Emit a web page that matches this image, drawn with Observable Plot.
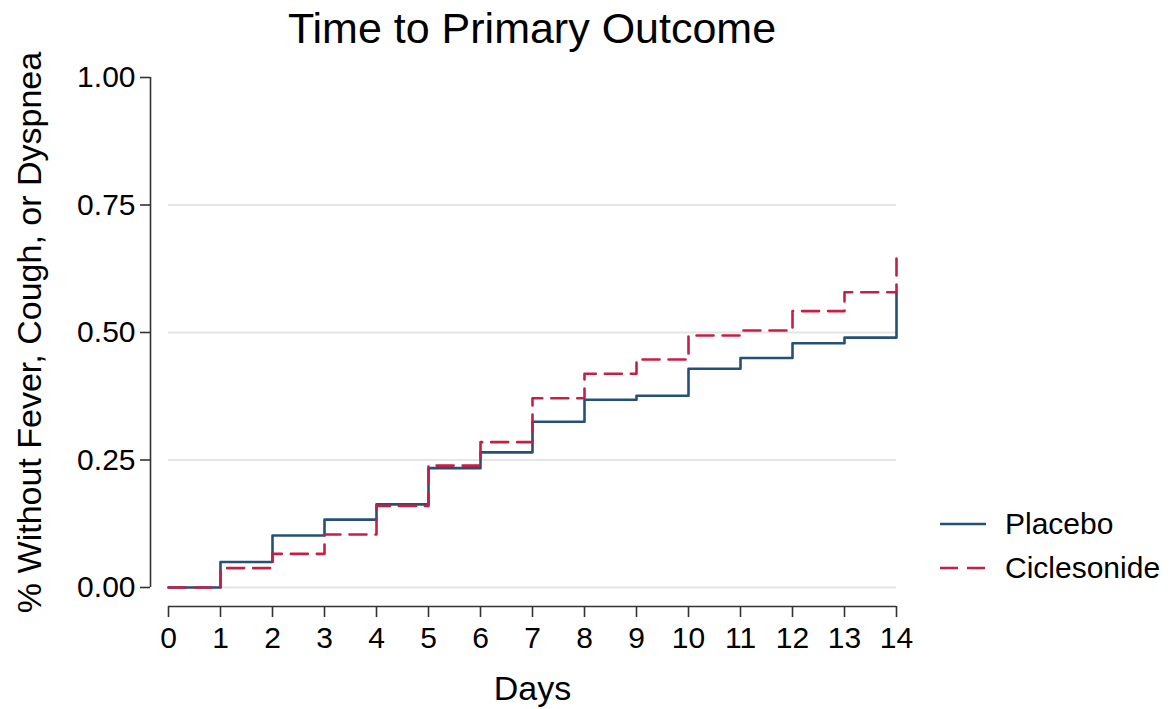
<!DOCTYPE html>
<html><head><meta charset="utf-8">
<script src="https://cdn.jsdelivr.net/npm/d3@7"></script>
<script src="https://cdn.jsdelivr.net/npm/@observablehq/plot@0.6"></script>
<style>
body{margin:0;background:#fff;font-family:"Liberation Sans",Arial,sans-serif;}
#wrap{position:relative;width:1175px;height:709px;overflow:hidden;}
#title{position:absolute;left:0;top:0;width:1064px;height:56px;line-height:56px;text-align:center;font-size:43px;color:#000;}
#chart{position:absolute;left:0;top:56px;}
.legtext{position:absolute;left:1005px;font-size:30px;line-height:30px;color:#000;white-space:nowrap;}
.legsw{position:absolute;left:940px;}
</style></head><body>
<div id="wrap">
  <div id="title">Time to Primary Outcome</div>
  <div id="chart"></div>
  <div id="legend"></div>
</div>
<script>
const days = [0, 1, 2, 3, 4, 5, 6, 7, 8, 9, 10, 11, 12, 13, 14];
const placebo = [0, 0.050, 0.102, 0.133, 0.163, 0.234, 0.265, 0.325, 0.368, 0.376, 0.429, 0.450, 0.479, 0.490, 0.579];
const ciclesonide = [0, 0.038, 0.066, 0.104, 0.160, 0.239, 0.285, 0.371, 0.419, 0.447, 0.494, 0.504, 0.542, 0.579, 0.656];
const groups = ["Placebo", "Ciclesonide"];
const colors = ["#24507a", "#c81e45"];
const dashes = [null, "17,9"];
const xTicks = [0, 1, 2, 3, 4, 5, 6, 7, 8, 9, 10, 11, 12, 13, 14];
const yTicks = [0, 0.25, 0.5, 0.75, 1];
const gridTicks = [0, 0.25, 0.5, 0.75];

const series = [placebo, ciclesonide];
const tables = series.map((vals, g) => days.map((d, i) => ({day: d, value: vals[i], group: groups[g]})));

const plot = Plot.plot({
  width: 1175,
  height: 653,
  marginTop: 21,
  marginBottom: 122,
  marginLeft: 168,
  marginRight: 279,
  x: {domain: [0, 14]},
  y: {domain: [0, 1]},
  style: {fontFamily: "'Liberation Sans', Arial, sans-serif", fontSize: "30px", color: "#000", background: "transparent", overflow: "visible"},
  marks: [
    Plot.gridY(gridTicks, {stroke: "#e5e5e5", strokeOpacity: 1, strokeWidth: 2}),
    Plot.ruleY([0], {dy: 19, stroke: "#333", strokeWidth: 1.6}),
    Plot.ruleX([0], {dx: -18, stroke: "#333", strokeWidth: 1.6}),
    Plot.axisX({ticks: xTicks, tickFormat: d => String(d), tickSize: 11, tickPadding: 9, dy: 19, label: null, fontSize: 30, stroke: "#333", strokeWidth: 1.6, fill: "#000"}),
    Plot.axisY({ticks: yTicks, tickFormat: d => d.toFixed(2), tickSize: 10, tickPadding: 5, dx: -18, label: null, fontSize: 30, stroke: "#333", strokeWidth: 1.6, fill: "#000"}),
    ...tables.map((t, g) => Plot.line(t, {x: "day", y: "value", curve: "step-after", stroke: colors[g], strokeWidth: 2.6, strokeDasharray: dashes[g]})),
    Plot.text(["Days"], {frameAnchor: "bottom", dy: 112, lineAnchor: "bottom", fontSize: 34, fill: "#000"}),
    Plot.text(["% Without Fever, Cough, or Dyspnea"], {frameAnchor: "left", textAnchor: "middle", dx: -128, rotate: -90, lineAnchor: "bottom", fontSize: 34, fill: "#000"})
  ]
});
plot.style.overflow = "visible";
document.getElementById("chart").appendChild(plot);

const leg = document.getElementById("legend");
groups.forEach((name, g) => {
  const cy = 524 + g * 44;
  const sw = document.createElementNS("http://www.w3.org/2000/svg", "svg");
  sw.setAttribute("class", "legsw");
  sw.setAttribute("width", 46);
  sw.setAttribute("height", 10);
  sw.style.top = (cy - 5) + "px";
  const ln = document.createElementNS("http://www.w3.org/2000/svg", "line");
  ln.setAttribute("x1", 0); ln.setAttribute("x2", 46);
  ln.setAttribute("y1", 5); ln.setAttribute("y2", 5);
  ln.setAttribute("stroke", colors[g]);
  ln.setAttribute("stroke-width", 2.6);
  if (dashes[g]) ln.setAttribute("stroke-dasharray", "18,9");
  sw.appendChild(ln);
  leg.appendChild(sw);
  const tx = document.createElement("div");
  tx.className = "legtext";
  tx.style.top = (cy - 15) + "px";
  tx.textContent = name;
  leg.appendChild(tx);
});
</script>
</body></html>
